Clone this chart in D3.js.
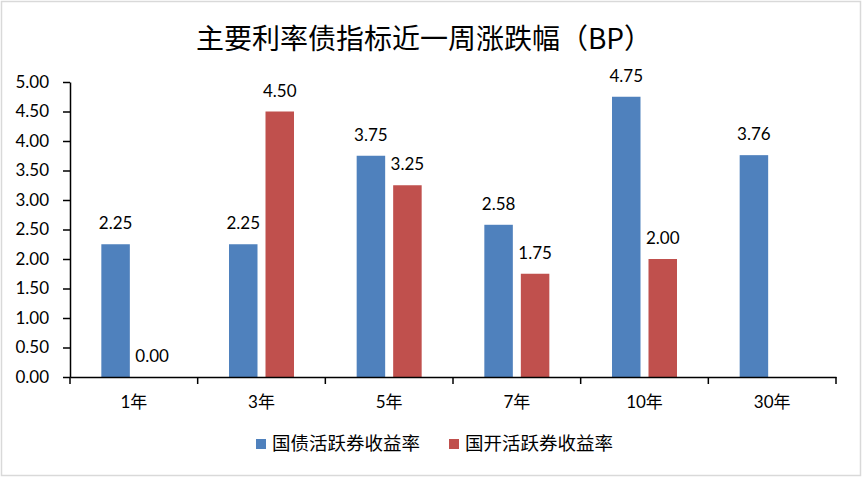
<!DOCTYPE html>
<html>
<head>
<meta charset="utf-8">
<script src="https://cdn.jsdelivr.net/npm/d3@7"></script>
<style>
  body { margin: 0; background: #fff; }
  svg text { font-family: "Lato", "Noto Sans CJK SC", sans-serif; fill: #000; }
</style>
</head>
<body>
<div id="chart"></div>
<script>
var categories = ["1年", "3年", "5年", "7年", "10年", "30年"];
var seriesNames = ["国债活跃券收益率", "国开活跃券收益率"];
var guozhai = [2.25, 2.25, 3.75, 2.58, 4.75, 3.76];
var guokai = [0.00, 4.50, 3.25, 1.75, 2.00, null];
var yTicks = [0, 0.5, 1, 1.5, 2, 2.5, 3, 3.5, 4, 4.5, 5];
var colors = ["#4F81BD", "#C0504D"];

var W = 862, H = 477;
var margin = {top: 82, right: 26, bottom: 100, left: 70},
    width = W - margin.left - margin.right,
    height = H - margin.top - margin.bottom;

var svg = d3.select("#chart")
  .append("svg")
    .attr("width", W)
    .attr("height", H);

// outer border
svg.append("rect")
    .attr("x", 1.5).attr("y", 1.5)
    .attr("width", W - 3).attr("height", H - 3)
    .attr("fill", "#fff")
    .attr("stroke", "#d9d9d9")
    .attr("stroke-width", 1.5);

svg.append("text")
    .attr("x", W / 2 - 7)
    .attr("y", 49)
    .attr("text-anchor", "middle")
    .style("font-family", "'Noto Sans CJK SC', sans-serif")
    .style("font-size", "28px")
    .text("主要利率债指标近一周涨跌幅（BP）");

var g = svg.append("g")
    .attr("transform", "translate(" + margin.left + "," + margin.top + ")");

var x = d3.scaleBand().domain(categories).range([0, width]);
var y = d3.scaleLinear().domain([0, 5]).range([height, 0]);

var barW = 28.5, gap = 8;
var data = [guozhai, guokai];

data.forEach(function(vals, s) {
  var off = s === 0 ? -(gap / 2 + barW) : gap / 2;
  var items = vals.map(function(v, i) { return {c: categories[i], v: v}; })
    .filter(function(d) { return d.v !== null; });

  g.selectAll(".bar" + s)
    .data(items)
    .enter().append("rect")
      .attr("x", function(d) { return x(d.c) + x.bandwidth() / 2 + off; })
      .attr("y", function(d) { return y(d.v); })
      .attr("width", barW)
      .attr("height", function(d) { return height - y(d.v); })
      .style("fill", colors[s]);

  g.selectAll(".lbl" + s)
    .data(items)
    .enter().append("text")
      .attr("x", function(d) { return x(d.c) + x.bandwidth() / 2 + off + barW / 2; })
      .attr("y", function(d) { return y(d.v) - 15; })
      .attr("text-anchor", "middle")
      .style("font-size", "17px")
      .text(function(d) { return d.v.toFixed(2); });
});

// y axis
var yAxis = g.append("g")
    .call(d3.axisLeft(y).tickValues(yTicks).tickSize(7).tickSizeOuter(0)
      .tickFormat(d3.format(".2f")));
yAxis.selectAll("text").style("font-size", "17px").attr("x", -21);
yAxis.selectAll("line, path").attr("stroke", "#000").attr("stroke-width", 1.5);

// x axis
var xAxis = g.append("g")
    .attr("transform", "translate(0," + height + ")")
    .call(d3.axisBottom(x).tickSize(0).tickSizeOuter(0));
xAxis.select("path").attr("stroke", "#000").attr("stroke-width", 1.5);
xAxis.selectAll("text").style("font-size", "17px")
    .attr("y", 31).attr("dy", 0);

// tick marks at band boundaries
var bounds = categories.map(function(c) { return x(c); }).concat([width]);
xAxis.selectAll(".bt")
  .data(bounds)
  .enter().append("line")
    .attr("x1", function(d) { return d; })
    .attr("x2", function(d) { return d; })
    .attr("y1", 0).attr("y2", 7)
    .attr("stroke", "#000").attr("stroke-width", 1.5);

// legend
var legendX = [256, 449];
var legend = svg.selectAll(".legend")
  .data(seriesNames)
  .enter().append("g")
    .attr("transform", function(d, i) { return "translate(" + legendX[i] + ",444)"; });
legend.append("rect")
    .attr("x", 0).attr("y", -5)
    .attr("width", 10).attr("height", 10)
    .style("fill", function(d, i) { return colors[i]; });
legend.append("text")
    .attr("x", 16).attr("y", 0).attr("dy", "0.35em")
    .style("font-family", "'Noto Sans CJK SC', sans-serif")
    .style("font-size", "18.5px")
    .text(function(d) { return d; });
</script>
</body>
</html>
